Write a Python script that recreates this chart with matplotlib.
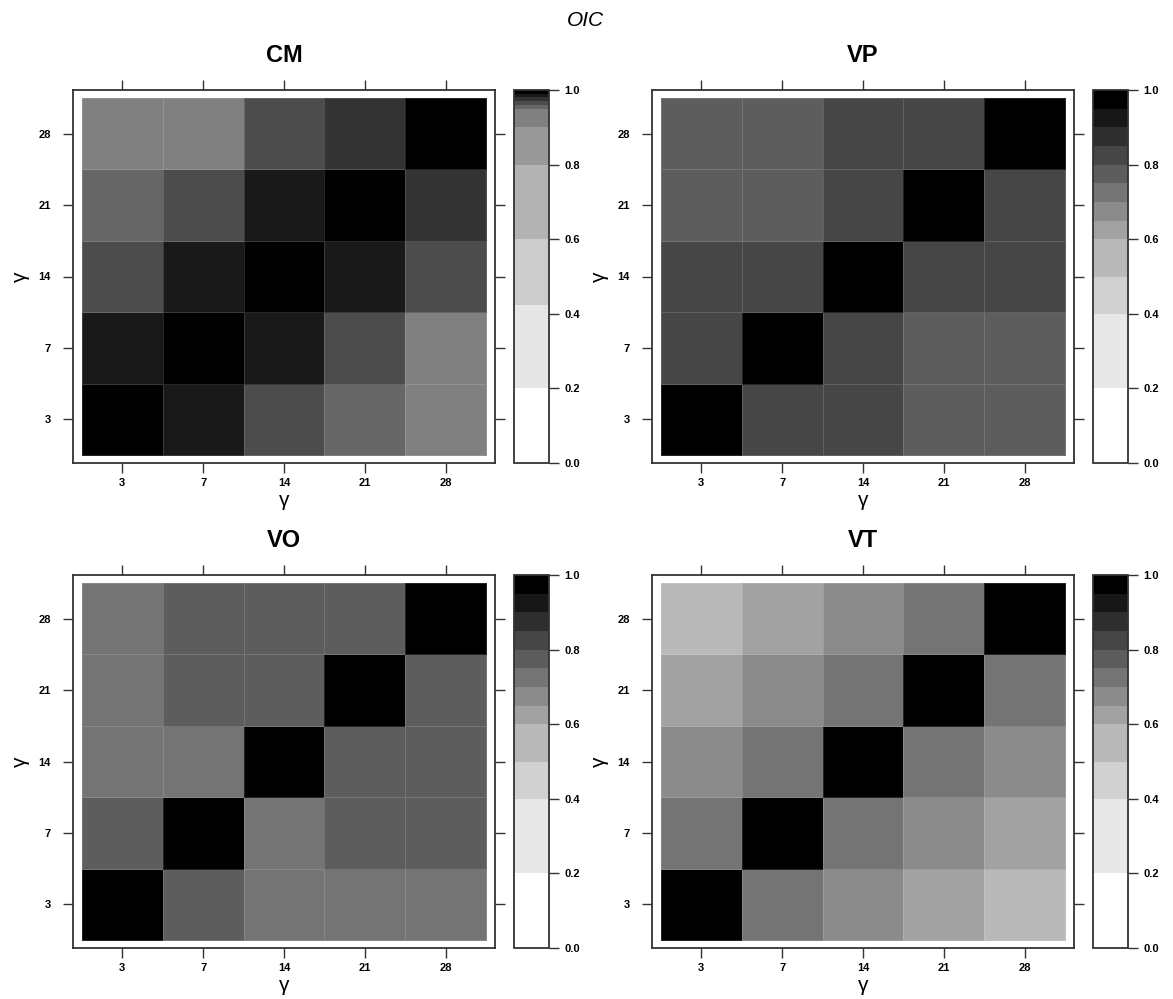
import numpy as np
import matplotlib
matplotlib.use("Agg")
import matplotlib.pyplot as plt
from matplotlib.colors import ListedColormap, BoundaryNorm

plt.rcParams['font.family'] = ['Liberation Sans', 'DejaVu Sans']

W, H = 1173, 999

# gamma levels (both axes)
gammas = ["3", "7", "14", "21", "28"]

# rows: gamma on y (3 -> 28), columns: gamma on x (3 -> 28)
cm_vals = [[1.000, 0.985, 0.965, 0.955, 0.930],
           [0.985, 1.000, 0.985, 0.965, 0.930],
           [0.965, 0.985, 1.000, 0.985, 0.965],
           [0.955, 0.965, 0.985, 1.000, 0.975],
           [0.930, 0.930, 0.965, 0.975, 1.000]]

vp_vals = [[1.000, 0.825, 0.825, 0.775, 0.775],
           [0.825, 1.000, 0.825, 0.775, 0.775],
           [0.825, 0.825, 1.000, 0.825, 0.825],
           [0.775, 0.775, 0.825, 1.000, 0.825],
           [0.775, 0.775, 0.825, 0.825, 1.000]]

vo_vals = [[1.000, 0.775, 0.725, 0.725, 0.725],
           [0.775, 1.000, 0.725, 0.775, 0.775],
           [0.725, 0.725, 1.000, 0.775, 0.775],
           [0.725, 0.775, 0.775, 1.000, 0.775],
           [0.725, 0.775, 0.775, 0.775, 1.000]]

vt_vals = [[1.000, 0.725, 0.675, 0.625, 0.550],
           [0.725, 1.000, 0.725, 0.675, 0.625],
           [0.675, 0.725, 1.000, 0.725, 0.675],
           [0.625, 0.675, 0.725, 1.000, 0.725],
           [0.550, 0.625, 0.675, 0.725, 1.000]]

# colour breaks
cm_breaks = [0, 0.2, 0.424, 0.6, 0.8, 0.9, 0.95, 0.96, 0.97, 0.98, 0.99, 1.0]
v_breaks = [0, 0.2, 0.4, 0.5, 0.6, 0.65, 0.7, 0.75, 0.8, 0.85, 0.9, 0.95, 1.0]

panels = [("CM", cm_vals, cm_breaks, 73, 90),
          ("VP", vp_vals, v_breaks, 652, 90),
          ("VO", vo_vals, v_breaks, 73, 575),
          ("VT", vt_vals, v_breaks, 652, 575)]


def box(x0, y0, x1, y1):
    return [x0 / W, 1 - y1 / H, (x1 - x0) / W, (y1 - y0) / H]


fig = plt.figure(figsize=(W / 100, H / 100), dpi=100)
fig.text(585 / W, 1 - 20 / H, "OIC", style="italic", fontsize=15,
         ha="center", va="center")

for name, vals, breaks, px, py in panels:
    n = len(breaks) - 1
    greys = np.linspace(1, 0, n)
    cmap = ListedColormap([(g, g, g) for g in greys])
    norm = BoundaryNorm(breaks, n)

    ax = fig.add_axes(box(px, py, px + 422, py + 373))
    edges = np.arange(len(gammas) + 1) + 0.5
    mesh = ax.pcolormesh(edges, edges, np.array(vals), cmap=cmap, norm=norm,
                         edgecolors=(1, 1, 1, 0.15), linewidth=0.6)
    ax.set_xlim(0.39, 5.61)
    ax.set_ylim(0.39, 5.61)
    pos = np.arange(1, len(gammas) + 1)
    ax.set_xticks(pos)
    ax.set_yticks(pos)
    ax.set_xticklabels(gammas, fontsize=8, fontweight="bold")
    ax.set_yticklabels(gammas, fontsize=8, fontweight="bold")
    ax.tick_params(direction="out", length=7, width=1, color="#333333",
                   top=True, right=True)
    ax.tick_params(axis="x", pad=4)
    ax.tick_params(axis="y", pad=9)
    for s in ax.spines.values():
        s.set_linewidth(1.3)
        s.set_color("#333333")
    ax.set_xlabel("γ", fontsize=15, labelpad=2)
    ax.set_ylabel("γ", fontsize=15, labelpad=6)
    ax.set_title(name, fontsize=17, fontweight="bold", pad=20)

    cax = fig.add_axes(box(px + 441, py, px + 476, py + 373))
    cb = fig.colorbar(mesh, cax=cax, spacing="proportional",
                      ticks=[0, 0.2, 0.4, 0.6, 0.8, 1.0], format="%.1f")
    cax.minorticks_off()
    cb.outline.set_linewidth(1.3)
    cb.outline.set_edgecolor("#333333")
    cax.tick_params(length=7, width=1, color="#333333", labelsize=8, pad=4)
    for t in cax.get_yticklabels():
        t.set_fontweight("bold")

fig.savefig("out.png", dpi=100)
